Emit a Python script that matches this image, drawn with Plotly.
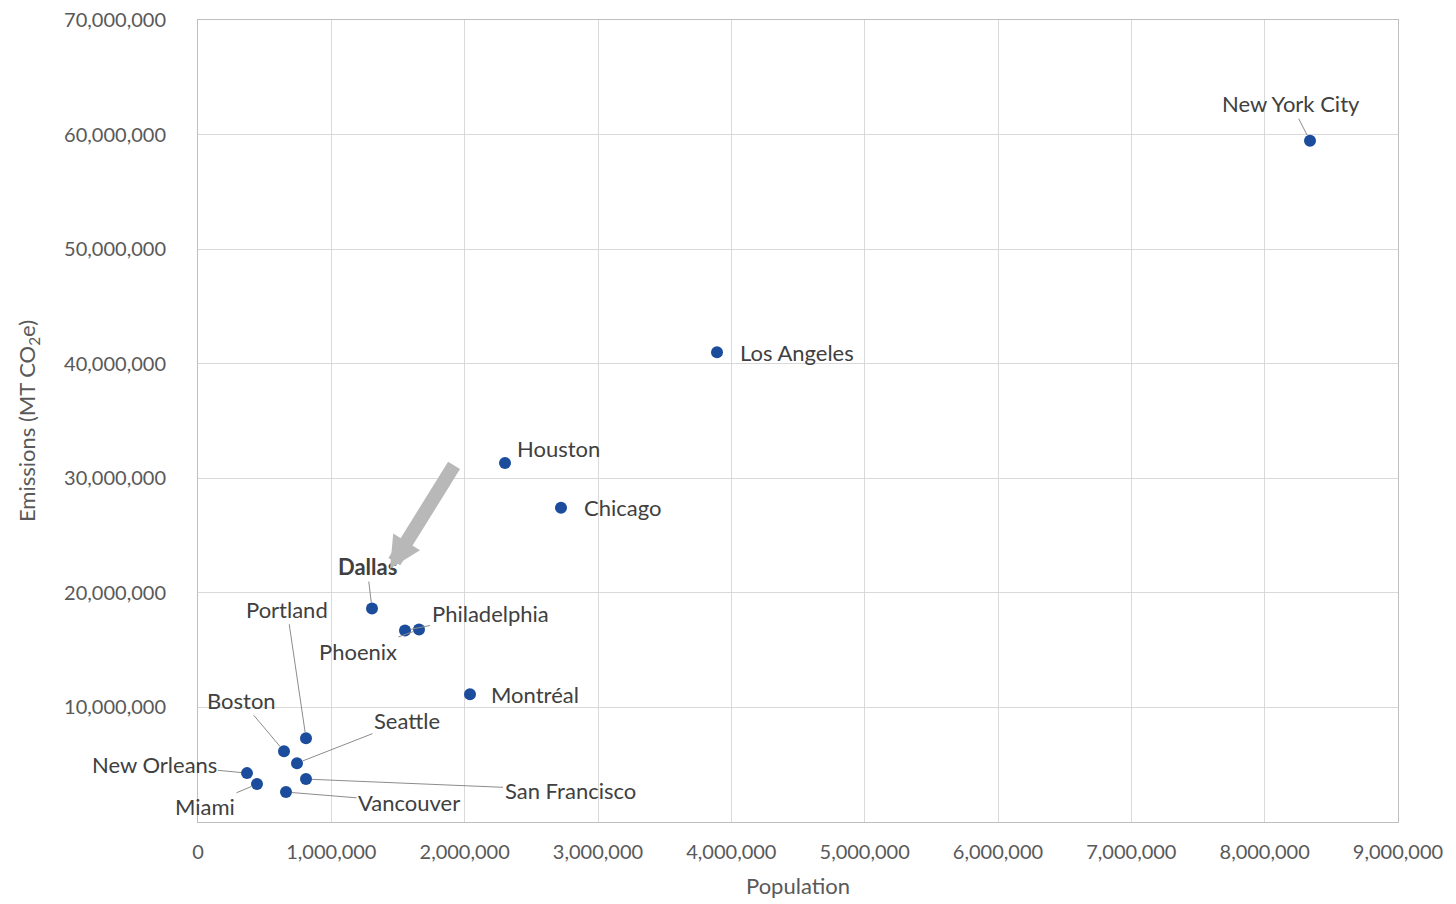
import plotly.graph_objects as go

cities = ["New York City", "Los Angeles", "Houston", "Chicago", "Dallas", "Philadelphia",
          "Phoenix", "Montréal", "Portland", "Boston", "Seattle", "San Francisco",
          "New Orleans", "Miami", "Vancouver"]
population = [8340000, 3892500, 2302500, 2722500, 1305000, 1552500,
              1657500, 2040000, 810000, 645000, 742500, 810000,
              367500, 442500, 660000]
emissions = [59465000, 41007000, 31343000, 27425000, 18632000, 16716000,
             16803000, 11144000, 7313000, 6182000, 5137000, 3744000,
             4266000, 3308000, 2612000]

x_ticks = list(range(0, 9000001, 1000000))
y_ticks = list(range(10000000, 70000001, 10000000))

# label placement: (mode, dx, dy) pixel offsets of label from point
label_pos = {
    "New York City": ("line", -19, -37),
    "Los Angeles": ("right", 21, 0),
    "Houston": ("right", 10, -14),
    "Chicago": ("right", 21, 0),
    "Dallas": ("line", -5, -42),
    "Philadelphia": ("line", 85, -17),
    "Phoenix": ("line", -61, 22),
    "Montréal": ("right", 19, 0),
    "Portland": ("line", -19, -129),
    "Boston": ("line", -43, -51),
    "Seattle": ("line", 110, -43),
    "San Francisco": ("line", 264, 11),
    "New Orleans": ("line", -93, -9),
    "Miami": ("line", -52, 22),
    "Vancouver": ("line", 123, 10),
}

label_color = "#404040"
font_family = "Lato, 'Open Sans', sans-serif"

fig = go.Figure()
fig.add_trace(go.Scatter(
    x=population, y=emissions, mode="markers", text=cities,
    marker=dict(size=12, color="#1c4c9c", line=dict(width=0)),
    hovertemplate="%{text}<br>%{x:,}<br>%{y:,}<extra></extra>",
    showlegend=False,
))

annotations = []
for c, px, ey in zip(cities, population, emissions):
    mode, dx, dy = label_pos[c]
    txt = "<b>%s</b>" % c if c == "Dallas" else c
    if mode == "right":
        annotations.append(dict(x=px, y=ey, xref="x", yref="y", text=txt,
                                showarrow=False, xanchor="left", yanchor="middle",
                                xshift=dx, yshift=-dy,
                                font=dict(size=22, color=label_color, family=font_family)))
    else:
        annotations.append(dict(x=px, y=ey, xref="x", yref="y", text=txt,
                                showarrow=True, arrowhead=0, arrowwidth=1,
                                arrowcolor="#8c8c8c", standoff=6,
                                ax=dx, ay=dy, xanchor="center", yanchor="middle",
                                font=dict(size=22, color=label_color, family=font_family)))

# gray highlight arrow pointing at Dallas
annotations.append(dict(x=1440000, y=22114000, xref="x", yref="y",
                        ax=1927500, ay=31256000, axref="x", ayref="y",
                        text="", showarrow=True, arrowhead=2, arrowsize=0.45,
                        arrowwidth=14, arrowcolor="#b8b8b8"))

fig.update_layout(
    width=1448, height=896,
    margin=dict(l=190, r=58, t=12, b=82),
    paper_bgcolor="white", plot_bgcolor="white",
    font=dict(family=font_family, color="#595959"),
    annotations=annotations,
    xaxis=dict(range=[0, 9000000], tickvals=x_ticks, tickformat=",",
               showgrid=True, gridcolor="#d9d9d9", gridwidth=1,
               showline=True, linecolor="#bfbfbf", linewidth=1, mirror=True,
               zeroline=False, ticks="", ticklabelstandoff=12, automargin=False,
               ticklabeloverflow="allow",
               tickfont=dict(size=20, color="#595959", family=font_family),
               title=dict(text="Population", standoff=16,
                          font=dict(size=22, color="#595959", family=font_family))),
    yaxis=dict(range=[0, 70000000], tickvals=y_ticks, tickformat=",",
               showgrid=True, gridcolor="#d9d9d9", gridwidth=1,
               showline=True, linecolor="#bfbfbf", linewidth=1, mirror=True,
               zeroline=False, ticks="", ticklabelstandoff=27, automargin=False,
               ticklabeloverflow="allow",
               tickfont=dict(size=20, color="#595959", family=font_family),
               title=dict(text="Emissions (MT CO<sub>2</sub>e)", standoff=22,
                          font=dict(size=22, color="#595959", family=font_family))),
)

fig.write_html("out.html")
